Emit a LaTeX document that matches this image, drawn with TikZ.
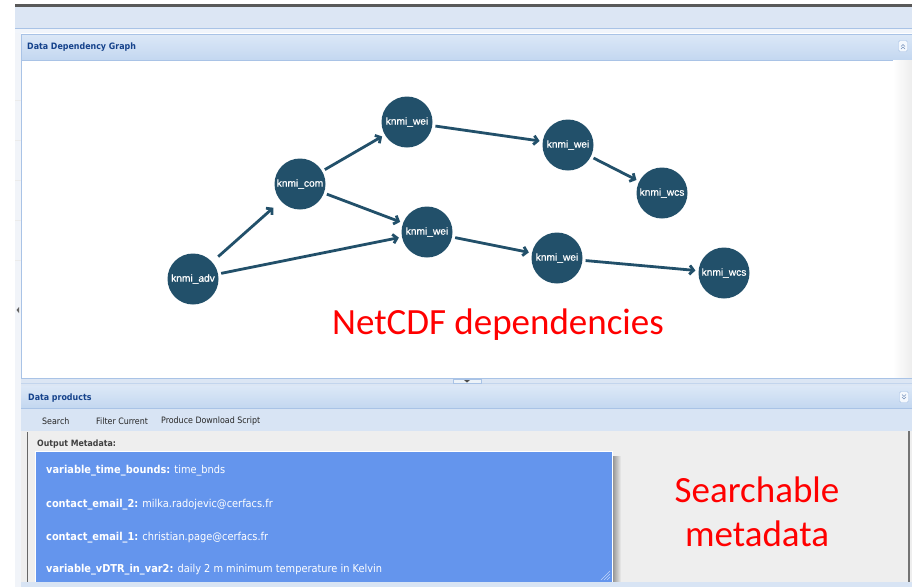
\documentclass[tikz,border=0pt]{standalone}
\usepackage{fontspec}
\setmainfont{DejaVu Sans Condensed}
\newfontfamily\labelfont{Liberation Sans}[FakeBold=0.8]
\newfontfamily\notefont{Carlito}
\usetikzlibrary{arrows.meta}

\definecolor{barblue}{HTML}{DCE6F4}
\definecolor{headtop}{HTML}{DCE8F7}
\definecolor{headbot}{HTML}{C3D7F0}
\definecolor{edgeblue}{HTML}{A9C3E6}
\definecolor{titleblue}{HTML}{15428B}
\definecolor{nodeteal}{HTML}{22506A}
\definecolor{metablue}{HTML}{6495ED}
\definecolor{panelgrey}{HTML}{EEEEEE}
\definecolor{stripgrey}{HTML}{F1F4F9}
\definecolor{toolblue}{HTML}{D8E4F4}

\tikzset{
  dep/.style={circle, fill=nodeteal, minimum size=51pt, inner sep=0pt,
    text=white, font=\labelfont\fontsize{10.2}{11}\selectfont},
  link/.style={draw=nodeteal, line width=2.8pt,
    -{Straight Barb[length=4pt,width=9pt]}, shorten >=3pt, shorten <=3pt},
  paneltitle/.style={anchor=west, inner sep=0pt, text=titleblue,
    font=\bfseries\fontsize{8.8}{10}\selectfont},
  toolitem/.style={anchor=west, inner sep=0pt, text=black!85,
    font=\fontsize{8.8}{10}\selectfont},
  metaline/.style={anchor=west, inner sep=0pt, text=white,
    font=\fontsize{10.9}{12}\selectfont},
  note/.style={text=red, font=\notefont\fontsize{37}{44}\selectfont,
    align=center, inner sep=0pt},
  collapsebtn/.style={draw=edgeblue, fill=white!70!headtop, rounded corners=1.5pt,
    minimum width=9pt, minimum height=11pt, inner sep=0pt}
}

\begin{document}
\begin{tikzpicture}[x=1pt,y=-1pt]
\useasboundingbox (0,0) rectangle (912,587);
\fill[white] (0,0) rectangle (912,587);

% window top rule and toolbar
\fill[black!65] (15,4) rectangle (912,6.5);
\fill[barblue] (15,6.5) rectangle (912,28);
\draw[edgeblue] (15,28.5) -- (912,28.5);
\fill[white!60!barblue] (15,29) rectangle (912,33);

% collapsed side strip
\fill[stripgrey] (15,33) rectangle (21,587);
\foreach \yy in {100,140,180,220,260} \draw[black!8] (15,\yy) -- (21,\yy);
\fill[black!60] (19,307) -- (19,313) -- (16.5,310) -- cycle;

% upper panel: header
\shade[top color=headtop, bottom color=headbot] (21,34) rectangle (912,60);
\draw[edgeblue] (21,34) -- (912,34);
\draw[edgeblue] (21,60) -- (912,60);
\draw[edgeblue] (21,34) -- (21,378);
\node[paneltitle] (t1) at (27,47) {Data Dependency Graph};
\node[collapsebtn] (b1) at (903,46) {};
\draw[titleblue!60, line width=0.6pt] ([shift={(-2,0.5)}]b1.center) -- ([shift={(0,-1.5)}]b1.center) -- ([shift={(2,0.5)}]b1.center);
\draw[titleblue!60, line width=0.6pt] ([shift={(-2,3)}]b1.center) -- ([shift={(0,1)}]b1.center) -- ([shift={(2,3)}]b1.center);

% graph canvas
\fill[white] (21.5,60.5) rectangle (912,378);
\shade[left color=white, right color=black!7] (893,60.5) rectangle (912,378);

% dependency graph
\node[dep] (adv)  at (193,279) {knmi\_adv};
\node[dep] (com)  at (300,184) {knmi\_com};
\node[dep] (weiA) at (407,122) {knmi\_wei};
\node[dep] (weiB) at (427,232) {knmi\_wei};
\node[dep] (weiC) at (568,145) {knmi\_wei};
\node[dep] (wcsA) at (662,193) {knmi\_wcs};
\node[dep] (weiD) at (557,258) {knmi\_wei};
\node[dep] (wcsB) at (724,273) {knmi\_wcs};

\draw[link, shorten <=8pt, shorten >=10pt] (adv) -- (com);
\draw[link] (adv) -- (weiB);
\draw[link] (com) -- (weiA);
\draw[link] (com) -- (weiB);
\draw[link] (weiA) -- (weiC);
\draw[link] (weiC) -- (wcsA);
\draw[link] (weiB) -- (weiD);
\draw[link] (weiD) -- (wcsB);

\node[note] (n1) at (498,325) {NetCDF dependencies};

% splitter between panels
\fill[barblue] (21,378) rectangle (912,386);
\draw[edgeblue] (21,378) -- (912,378);
\draw[edgeblue!70] (21,383) -- (912,383);
\fill[white!50!barblue, draw=edgeblue] (453,379) rectangle (481,383);
\fill[black!70] (464,380) -- (470,380) -- (467,382.5) -- cycle;

% lower panel: header
\shade[top color=headtop, bottom color=headbot] (21,386) rectangle (912,408);
\draw[edgeblue] (21,408) -- (912,408);
\node[paneltitle] (t2) at (28,398) {Data products};
\node[collapsebtn] (b2) at (904,397) {};
\draw[titleblue!60, line width=0.6pt] ([shift={(-2,-2.5)}]b2.center) -- ([shift={(0,-0.5)}]b2.center) -- ([shift={(2,-2.5)}]b2.center);
\draw[titleblue!60, line width=0.6pt] ([shift={(-2,0)}]b2.center) -- ([shift={(0,2)}]b2.center) -- ([shift={(2,0)}]b2.center);

% lower panel: toolbar
\fill[toolblue] (21,408.5) rectangle (912,431);
\node[toolitem] (s1) at (42,421) {Search};
\node[toolitem] (s2) at (96,421) {Filter Current};
\node[toolitem] (s3) at (161,421) {Produce Download Script};

% lower panel: content
\fill[panelgrey] (21,431) rectangle (912,582);
\draw[black!60, line width=1.5pt] (27.5,432) -- (27.5,582);
\draw[black!55, line width=2pt] (909,431) -- (909,582);
\node[anchor=west, inner sep=0pt, text=black!75, font=\bfseries\fontsize{8.7}{10}\selectfont] (om) at (37,444) {Output Metadata:};

% metadata list with drop shadow
\shade[left color=black!45, right color=panelgrey] (612,456) rectangle (621,582);
\fill[metablue] (35,451) rectangle (612,582);
\draw[white, line width=0.8pt] (35,582) -- (35,451) -- (612,451) -- (612,582);
\node[metaline] (m1) at (46,471) {\textbf{variable\_time\_bounds:} time\_bnds};
\node[metaline] (m2) at (46,505) {\textbf{contact\_email\_2:} milka.radojevic@cerfacs.fr};
\node[metaline] (m3) at (46,538) {\textbf{contact\_email\_1:} christian.page@cerfacs.fr};
\node[metaline] (m4) at (46,570) {\textbf{variable\_vDTR\_in\_var2:} daily 2 m minimum temperature in Kelvin};
% resize grip
\foreach \d in {3,6,9} \draw[white!60!metablue, line width=0.6pt] (610-\d,580) -- (610,580-\d);

\node[note] (n2) at (757,512) {Searchable\\metadata};

% bottom edge
\fill[toolblue] (21,582) rectangle (912,587);
\end{tikzpicture}
\end{document}
